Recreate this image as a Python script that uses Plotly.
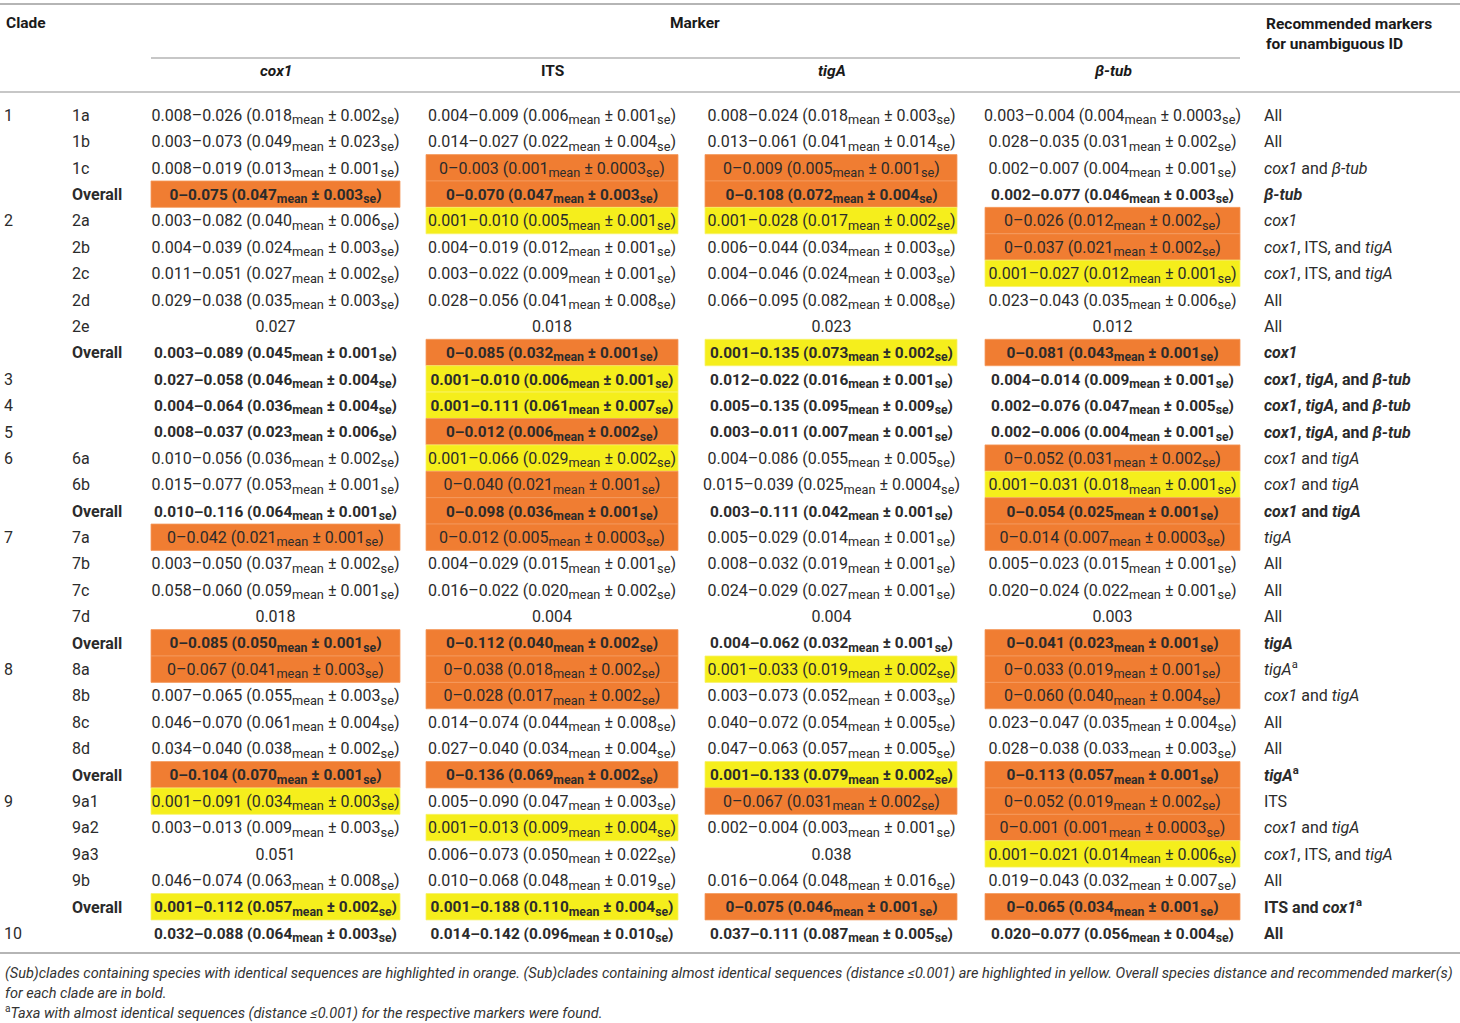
import plotly.graph_objects as go

# ---- table content ----
clades = ["1", "", "", "",
          "2", "", "", "", "", "",
          "3", "4", "5",
          "6", "", "",
          "7", "", "", "", "",
          "8", "", "", "", "",
          "9", "", "", "", "",
          "10"]

subclades = ["1a", "1b", "1c", "Overall",
             "2a", "2b", "2c", "2d", "2e", "Overall",
             "", "", "",
             "6a", "6b", "Overall",
             "7a", "7b", "7c", "7d", "Overall",
             "8a", "8b", "8c", "8d", "Overall",
             "9a1", "9a2", "9a3", "9b", "Overall",
             ""]

bold_rows = [3, 9, 10, 11, 12, 15, 20, 25, 30, 31]

# (range, mean, se); single values have only one entry
cox1 = [
    ("0.008–0.026", "0.018", "0.002"), ("0.003–0.073", "0.049", "0.023"),
    ("0.008–0.019", "0.013", "0.001"), ("0–0.075", "0.047", "0.003"),
    ("0.003–0.082", "0.040", "0.006"), ("0.004–0.039", "0.024", "0.003"),
    ("0.011–0.051", "0.027", "0.002"), ("0.029–0.038", "0.035", "0.003"),
    ("0.027",), ("0.003–0.089", "0.045", "0.001"),
    ("0.027–0.058", "0.046", "0.004"), ("0.004–0.064", "0.036", "0.004"),
    ("0.008–0.037", "0.023", "0.006"), ("0.010–0.056", "0.036", "0.002"),
    ("0.015–0.077", "0.053", "0.001"), ("0.010–0.116", "0.064", "0.001"),
    ("0–0.042", "0.021", "0.001"), ("0.003–0.050", "0.037", "0.002"),
    ("0.058–0.060", "0.059", "0.001"), ("0.018",),
    ("0–0.085", "0.050", "0.001"), ("0–0.067", "0.041", "0.003"),
    ("0.007–0.065", "0.055", "0.003"), ("0.046–0.070", "0.061", "0.004"),
    ("0.034–0.040", "0.038", "0.002"), ("0–0.104", "0.070", "0.001"),
    ("0.001–0.091", "0.034", "0.003"), ("0.003–0.013", "0.009", "0.003"),
    ("0.051",), ("0.046–0.074", "0.063", "0.008"),
    ("0.001–0.112", "0.057", "0.002"), ("0.032–0.088", "0.064", "0.003"),
]

its = [
    ("0.004–0.009", "0.006", "0.001"), ("0.014–0.027", "0.022", "0.004"),
    ("0–0.003", "0.001", "0.0003"), ("0–0.070", "0.047", "0.003"),
    ("0.001–0.010", "0.005", "0.001"), ("0.004–0.019", "0.012", "0.001"),
    ("0.003–0.022", "0.009", "0.001"), ("0.028–0.056", "0.041", "0.008"),
    ("0.018",), ("0–0.085", "0.032", "0.001"),
    ("0.001–0.010", "0.006", "0.001"), ("0.001–0.111", "0.061", "0.007"),
    ("0–0.012", "0.006", "0.002"), ("0.001–0.066", "0.029", "0.002"),
    ("0–0.040", "0.021", "0.001"), ("0–0.098", "0.036", "0.001"),
    ("0–0.012", "0.005", "0.0003"), ("0.004–0.029", "0.015", "0.001"),
    ("0.016–0.022", "0.020", "0.002"), ("0.004",),
    ("0–0.112", "0.040", "0.002"), ("0–0.038", "0.018", "0.002"),
    ("0–0.028", "0.017", "0.002"), ("0.014–0.074", "0.044", "0.008"),
    ("0.027–0.040", "0.034", "0.004"), ("0–0.136", "0.069", "0.002"),
    ("0.005–0.090", "0.047", "0.003"), ("0.001–0.013", "0.009", "0.004"),
    ("0.006–0.073", "0.050", "0.022"), ("0.010–0.068", "0.048", "0.019"),
    ("0.001–0.188", "0.110", "0.004"), ("0.014–0.142", "0.096", "0.010"),
]

tiga = [
    ("0.008–0.024", "0.018", "0.003"), ("0.013–0.061", "0.041", "0.014"),
    ("0–0.009", "0.005", "0.001"), ("0–0.108", "0.072", "0.004"),
    ("0.001–0.028", "0.017", "0.002"), ("0.006–0.044", "0.034", "0.003"),
    ("0.004–0.046", "0.024", "0.003"), ("0.066–0.095", "0.082", "0.008"),
    ("0.023",), ("0.001–0.135", "0.073", "0.002"),
    ("0.012–0.022", "0.016", "0.001"), ("0.005–0.135", "0.095", "0.009"),
    ("0.003–0.011", "0.007", "0.001"), ("0.004–0.086", "0.055", "0.005"),
    ("0.015–0.039", "0.025", "0.0004"), ("0.003–0.111", "0.042", "0.001"),
    ("0.005–0.029", "0.014", "0.001"), ("0.008–0.032", "0.019", "0.001"),
    ("0.024–0.029", "0.027", "0.001"), ("0.004",),
    ("0.004–0.062", "0.032", "0.001"), ("0.001–0.033", "0.019", "0.002"),
    ("0.003–0.073", "0.052", "0.003"), ("0.040–0.072", "0.054", "0.005"),
    ("0.047–0.063", "0.057", "0.005"), ("0.001–0.133", "0.079", "0.002"),
    ("0–0.067", "0.031", "0.002"), ("0.002–0.004", "0.003", "0.001"),
    ("0.038",), ("0.016–0.064", "0.048", "0.016"),
    ("0–0.075", "0.046", "0.001"), ("0.037–0.111", "0.087", "0.005"),
]

btub = [
    ("0.003–0.004", "0.004", "0.0003"), ("0.028–0.035", "0.031", "0.002"),
    ("0.002–0.007", "0.004", "0.001"), ("0.002–0.077", "0.046", "0.003"),
    ("0–0.026", "0.012", "0.002"), ("0–0.037", "0.021", "0.002"),
    ("0.001–0.027", "0.012", "0.001"), ("0.023–0.043", "0.035", "0.006"),
    ("0.012",), ("0–0.081", "0.043", "0.001"),
    ("0.004–0.014", "0.009", "0.001"), ("0.002–0.076", "0.047", "0.005"),
    ("0.002–0.006", "0.004", "0.001"), ("0–0.052", "0.031", "0.002"),
    ("0.001–0.031", "0.018", "0.001"), ("0–0.054", "0.025", "0.001"),
    ("0–0.014", "0.007", "0.0003"), ("0.005–0.023", "0.015", "0.001"),
    ("0.020–0.024", "0.022", "0.001"), ("0.003",),
    ("0–0.041", "0.023", "0.001"), ("0–0.033", "0.019", "0.001"),
    ("0–0.060", "0.040", "0.004"), ("0.023–0.047", "0.035", "0.004"),
    ("0.028–0.038", "0.033", "0.003"), ("0–0.113", "0.057", "0.001"),
    ("0–0.052", "0.019", "0.002"), ("0–0.001", "0.001", "0.0003"),
    ("0.001–0.021", "0.014", "0.006"), ("0.019–0.043", "0.032", "0.007"),
    ("0–0.065", "0.034", "0.001"), ("0.020–0.077", "0.056", "0.004"),
]

# o = identical sequences (orange), y = almost identical (yellow)
cox1_hl = "...o" + "......" + "..." + "..." + "o...o" + "o...o" + "y...y" + "."
its_hl = "..oo" + "y....o" + "yyo" + "yoo" + "o...o" + "oo..o" + ".y..y" + "."
tiga_hl = "..oo" + "y....y" + "..." + "..." + "....." + "y...y" + "o...o" + "."
btub_hl = "...." + "ooy..o" + "..." + "oyo" + "o...o" + "oo..o" + "ooy.o" + "."

C, T, B, I = "<i>cox1</i>", "<i>tigA</i>", "<i>β-tub</i>", "ITS"
recommended = [
    "All", "All", f"{C} and {B}", B,
    C, f"{C}, {I}, and {T}", f"{C}, {I}, and {T}", "All", "All", C,
    f"{C}, {T}, and {B}", f"{C}, {T}, and {B}", f"{C}, {T}, and {B}",
    f"{C} and {T}", f"{C} and {T}", f"{C} and {T}",
    T, "All", "All", "All", T,
    f"{T}<sup>a</sup>", f"{C} and {T}", "All", "All", f"{T}<sup>a</sup>",
    "ITS", f"{C} and {T}", f"{C}, {I}, and {T}", "All", f"ITS and {C}<sup>a</sup>",
    "All",
]

marker_names = ["<b><i>cox1</i></b>", "<b>ITS</b>", "<b><i>tigA</i></b>", "<b><i>β-tub</i></b>"]

# ---- layout constants (pixel-like x axis, row index y axis) ----
W, H = 1460, 1023
ROW0_PX, ROW_PX = 115, 26.39
TEXT_DY = 0.07          # text glyphs sit a touch high, nudge them down
col_centers = [275.5, 552, 831.5, 1112.5]
col_edges = [(151, 400), (426, 678), (705, 957), (985, 1240)]
FONT = "Roboto"
SIZE, SIZE_BOLD = 16, 15.4
TXT = "#2b2b2b"
ORANGE, YELLOW = "#F07D32", "#F5EE1C"


def row_of(px):
    return (px - ROW0_PX) / ROW_PX


def sub(s):
    return f"<sub><span style='font-size:114%'>{s}</span></sub>"


def fmt(cell, bold):
    if len(cell) == 1:
        s = cell[0]
    else:
        rng, mean, se = cell
        s = f"{rng} ({mean}{sub('mean')} ± {se}{sub('se')})"
    return f"<b>{s}</b>" if bold else s


n = len(clades)
rows = list(range(n))
ty = [r + TEXT_DY for r in rows]
isbold = [i in bold_rows for i in rows]
sizes = [SIZE_BOLD if b else SIZE for b in isbold]

fig = go.Figure()

# highlighted cells
shapes = []
for data_hl, (x0, x1) in zip([cox1_hl, its_hl, tiga_hl, btub_hl], col_edges):
    for i, code in enumerate(data_hl):
        if code == ".":
            continue
        fill = ORANGE if code == "o" else YELLOW
        edge = "#F59A5E" if code == "o" else "#F8F26A"
        shapes.append(dict(type="rect", xref="x", yref="y", x0=x0, x1=x1,
                           y0=i - 0.5, y1=i + 0.5, fillcolor=fill,
                           line=dict(color=edge, width=0.8), layer="below"))

# rules
rule_col = "#b5b5b5"
for ypx, xa, xb, w in [(4, 0, W, 2), (58, 151, 1240, 1.5), (92, 0, W, 1.5), (953, 0, W, 2)]:
    shapes.append(dict(type="line", xref="x", yref="y", x0=xa, x1=xb,
                       y0=row_of(ypx), y1=row_of(ypx), line=dict(color=rule_col, width=w)))

# left label columns
fig.add_trace(go.Scatter(x=[4] * n, y=ty, mode="text", text=clades,
                         textposition="middle right",
                         textfont=dict(family=FONT, size=SIZE, color=TXT)))
fig.add_trace(go.Scatter(x=[72] * n, y=ty, mode="text",
                         text=[f"<b>{s}</b>" if s == "Overall" else s for s in subclades],
                         textposition="middle right",
                         textfont=dict(family=FONT, size=SIZE, color=TXT)))

# marker columns
for data, xc in zip([cox1, its, tiga, btub], col_centers):
    fig.add_trace(go.Scatter(x=[xc] * n, y=ty, mode="text",
                             text=[fmt(c, b) for c, b in zip(data, isbold)],
                             textposition="middle center",
                             textfont=dict(family=FONT, size=sizes, color=TXT)))

# recommendation column
fig.add_trace(go.Scatter(x=[1264] * n, y=ty, mode="text",
                         text=[f"<b>{s}</b>" if b else s for s, b in zip(recommended, isbold)],
                         textposition="middle right",
                         textfont=dict(family=FONT, size=SIZE, color=TXT)))

# header + footnotes
ann = []
hdr_font = dict(family=FONT, size=15.5, color="#1a1a1a")
ann.append(dict(x=4, y=row_of(23), text="<b>Clade</b>", xanchor="left"))
ann.append(dict(x=695, y=row_of(23), text="<b>Marker</b>", xanchor="center"))
ann.append(dict(x=1264, y=row_of(34), text="<b>Recommended markers<br>for unambiguous ID</b>",
                xanchor="left", align="left"))
for name, xc in zip(marker_names, col_centers):
    ann.append(dict(x=xc, y=row_of(71), text=name, xanchor="center"))
for a in ann:
    a.update(xref="x", yref="y", showarrow=False, yanchor="middle", font=hdr_font)

foot_font = dict(family=FONT, size=14.5, color="#333333")
foot = [
    "<i>(Sub)clades containing species with identical sequences are highlighted in orange. "
    "(Sub)clades containing almost identical sequences (distance ≤0.001) are highlighted in yellow. "
    "Overall species distance and recommended marker(s)</i>",
    "<i>for each clade are in bold.</i>",
    "<sup>a</sup><i>Taxa with almost identical sequences (distance ≤0.001) for the respective markers were found.</i>",
]
for txt, ypx in zip(foot, [973, 993, 1012]):
    ann.append(dict(x=3, y=row_of(ypx), text=txt, xref="x", yref="y", showarrow=False,
                    xanchor="left", yanchor="middle", font=foot_font))

fig.update_layout(
    width=W, height=H,
    margin=dict(l=0, r=0, t=0, b=0),
    paper_bgcolor="white", plot_bgcolor="white",
    showlegend=False, hovermode=False,
    shapes=shapes, annotations=ann,
    xaxis=dict(range=[0, W], visible=False, fixedrange=True),
    yaxis=dict(range=[row_of(H), row_of(0)], visible=False, fixedrange=True),
)

# page body has a default 8px margin; drop it so the figure fills the window
fig.write_html("out.html", config={"displayModeBar": False},
               post_script="document.body.style.margin='0';document.body.style.overflow='hidden';")
